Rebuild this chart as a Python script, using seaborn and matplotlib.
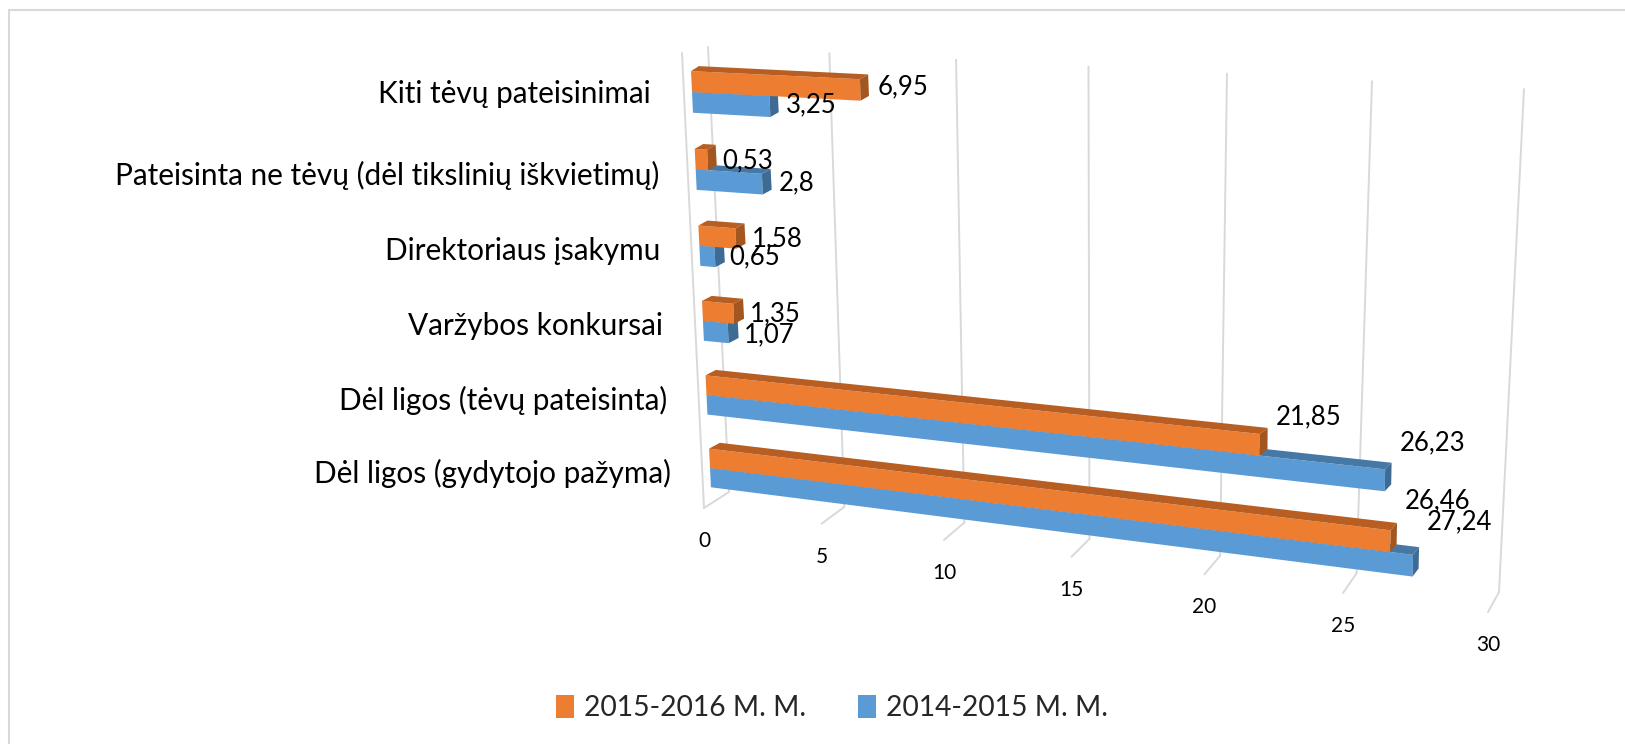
import numpy as np
import pandas as pd
import matplotlib
matplotlib.use('Agg')
import matplotlib.pyplot as plt
import matplotlib.transforms as mtransforms
from matplotlib.lines import Line2D
from matplotlib.patches import Polygon
import seaborn as sns

# -------- DATA --------
categories = ['Kiti tėvų pateisinimai', 'Pateisinta ne tėvų (dėl tikslinių iškvietimų)',
              'Direktoriaus įsakymu', 'Varžybos konkursai',
              'Dėl ligos (tėvų pateisinta)', 'Dėl ligos (gydytojo pažyma)']
seasons = ['2015-2016 M. M.', '2014-2015 M. M.']
values_2015 = [6.95, 0.53, 1.58, 1.35, 21.85, 26.46]
values_2014 = [3.25, 2.8, 0.65, 1.07, 26.23, 27.24]
ticks = [0, 5, 10, 15, 20, 25, 30]

# -------- LAYOUT (image pixels, y down) --------
W, H = 1625, 744
ORANGE, BLUE = '#ED7D31', '#5B9BD5'
FACES = {ORANGE: ('#B85E22', '#A3561F'), BLUE: ('#4678A6', '#3E6B94')}
GRID = '#D9D9D9'
BAR_WIDTH = 0.533

# label centres, same order as the values
labels_2015_xy = [(903, 87), (748, 161), (777, 239), (775, 314), (1309, 417), (1438, 501)]
labels_2014_xy = [(811, 105), (797, 183), (755, 257), (769, 335), (1433, 443), (1459, 522)]
category_xy = [(651, 94), (659, 175), (660, 251), (663, 326), (667, 400), (671, 473)]


class Persp(mtransforms.Transform):
    """Homography from chart coordinates (value, category position) to display pixels."""
    input_dims = output_dims = 2
    is_separable = False
    has_inverse = False

    def __init__(self, src, dst):
        super().__init__()
        rows, rhs = [], []
        for (u, v), (x, y) in zip(src, dst):
            rows.append([u, v, 1, 0, 0, 0, -u * x, -v * x])
            rows.append([0, 0, 0, u, v, 1, -u * y, -v * y])
            rhs += [x, y]
        self.m = np.append(np.linalg.solve(np.array(rows, float), np.array(rhs, float)), 1).reshape(3, 3)

    def transform_non_affine(self, values):
        pts = np.column_stack([values, np.ones(len(values))]) @ self.m.T
        out = pts[:, :2] / pts[:, 2:]
        out[:, 1] = H - out[:, 1]
        return out


# front plane of the bars, back plane of the bars, back wall
corners = [(0, 0), (30, 0), (0, 5), (30, 5)]
front = Persp(corners, [(692, 92), (1508, 134), (710, 468), (1495, 565)])
back = Persp(corners, [(700, 87), (1514, 130), (721, 462), (1500, 557)])
wall = Persp([(0, 0), (30, 0), (0, 1), (30, 1)], [(708, 47), (1524, 89), (729, 492), (1499, 592)])

# -------- DATAFRAME --------
df = pd.DataFrame({
    'Category': categories * 2,
    'Season': [seasons[0]] * 6 + [seasons[1]] * 6,
    'Value': values_2015 + values_2014,
})

# -------- PLOT --------
sns.set_theme(style='white')
plt.rcParams['font.family'] = ['Lato', 'DejaVu Sans']
fig = plt.figure(figsize=(W / 100, H / 100), dpi=100)
ax = fig.add_axes([0, 0, 1, 1])
sns.barplot(data=df, y='Category', x='Value', hue='Season', order=categories, hue_order=seasons,
            palette=[ORANGE, BLUE], saturation=1, width=BAR_WIDTH, gap=0, errorbar=None,
            legend=False, linewidth=0, ax=ax)
ax.set_xlim(0, 30)
ax.set_axis_off()
identity = mtransforms.IdentityTransform()

# chart frame: top and left only
fig.add_artist(Line2D([9 / W, 1], [1 - 10 / H, 1 - 10 / H], color='#D9D9D9', lw=1.5))
fig.add_artist(Line2D([9 / W, 9 / W], [1 - 10 / H, 0], color='#D9D9D9', lw=1.5))

# gridlines on the back wall, then the short run across the floor
for t in ticks:
    ax.plot([t, t], [0, 1], color=GRID, lw=1.4, transform=wall, zorder=1, clip_on=False)
    x, y = wall.transform([(t, 1)])[0]
    x_end = x - 25 + 14 * t / 30
    y_end = y - 16 - 4 * t / 30
    ax.plot([x, x_end], [y, y_end], color=GRID, lw=1.4, transform=identity, zorder=1, clip_on=False)
    ax.text(x_end, y_end - 33, str(t), fontsize=15, ha='center', va='center', color='black', transform=identity)
# left wall edge
edge = Persp([(0, 0), (1, 0), (0, 1), (1, 1)], [(682, 53), (683, 53), (704, 508), (705, 508)])
ax.plot([0, 0], [0, 1], color=GRID, lw=1.4, transform=edge, zorder=1, clip_on=False)

# bars: push seaborn's rectangles through the perspective and add the 3D faces
for container, color, order in zip(ax.containers, [ORANGE, BLUE], [4, 3]):
    for bar in container:
        bar.set_transform(front)
        bar.set_zorder(order)
        bar.set_clip_on(False)
        x0, x1 = bar.get_x(), bar.get_x() + bar.get_width()
        y0, y1 = bar.get_y(), bar.get_y() + bar.get_height()
        top_c, side_c = FACES[color]
        top = np.vstack([front.transform([(x0, y0), (x1, y0)]), back.transform([(x1, y0), (x0, y0)])])
        side = np.vstack([front.transform([(x1, y0), (x1, y1)]), back.transform([(x1, y1), (x1, y0)])])
        ax.add_patch(Polygon(top, closed=True, fc=top_c, ec='none', transform=identity, zorder=order, clip_on=False))
        ax.add_patch(Polygon(side, closed=True, fc=side_c, ec='none', transform=identity, zorder=order, clip_on=False))

# -------- TEXT --------
for values, places in zip([values_2015, values_2014], [labels_2015_xy, labels_2014_xy]):
    for v, (x, y) in zip(values, places):
        ax.text(x, H - y, f'{v:g}'.replace('.', ','), fontsize=18.5, ha='center', va='center',
                color='black', transform=identity, zorder=6)
for name, (x, y) in zip(categories, category_xy):
    ax.text(x, H - y, name, fontsize=21.4, ha='right', va='center', color='black', transform=identity, zorder=6)

handles = [container[0] for container in ax.containers]
fig.legend(handles, seasons, loc='center', bbox_to_anchor=(832 / W, 1 - 708 / H), ncol=2, frameon=False,
           fontsize=20.3, handlelength=0.65, handleheight=0.9, handletextpad=0.35, columnspacing=1.85)

plt.savefig('out.png', dpi=100)
